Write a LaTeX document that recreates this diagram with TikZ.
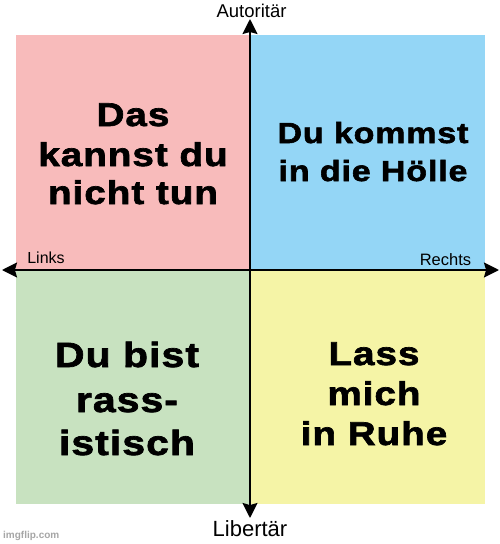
\documentclass[tikz,border=0pt]{standalone}
\usepackage{fontspec}
\setmainfont{Liberation Sans}
\newfontfamily\quadfont[LetterSpace=3,FakeStretch=1.17,FakeBold=2]{Liberation Sans Bold}
\newfontfamily\wmfont{Liberation Sans Bold}
\usetikzlibrary{arrows.meta}
\definecolor{qred}{RGB}{248,187,187}
\definecolor{qblue}{RGB}{148,214,246}
\definecolor{qgreen}{RGB}{200,226,192}
\definecolor{qyellow}{RGB}{245,244,166}
\begin{document}
\begin{tikzpicture}[x=1pt,y=-1pt,
  axislabel/.style={inner sep=0pt,anchor=base,text=black},
  quadline/.style={inner sep=0pt,anchor=base,text=black},
  axis/.style={line width=2pt,{Stealth[length=15pt,width=15pt,inset=2pt]}-{Stealth[length=15pt,width=15pt,inset=2pt]}}]
\useasboundingbox (0,0) rectangle (500,544);
\fill[white] (0,0) rectangle (500,544);
% quadrants
\fill[qred] (16,35) rectangle (250,270);
\fill[qblue] (250,35) rectangle (485,270);
\fill[qgreen] (16,270) rectangle (250,504);
\fill[qyellow] (250,270) rectangle (485,504);
% axes
\coordinate (top) at (250,19);
\coordinate (bot) at (250,518);
\coordinate (lft) at (2,270);
\coordinate (rgt) at (499,270);
\draw[axis] (top) -- (bot);
\draw[axis] (lft) -- (rgt);
% axis labels
\node[axislabel,font=\fontsize{18.5}{20}\selectfont] (aut) at (251.5,17) {Autoritär};
\node[axislabel,font=\fontsize{22}{24}\selectfont] (lib) at (250,536) {Libertär};
\node[axislabel,font=\fontsize{16}{18}\selectfont] (links) at (46,263) {Links};
\node[axislabel,font=\fontsize{16.5}{18}\selectfont] (rechts) at (445.5,265) {Rechts};
% quadrant texts
\node[quadline,font=\quadfont\fontsize{33}{36}\selectfont] (q1a) at (133,126) {Das};
\node[quadline,font=\quadfont\fontsize{33}{36}\selectfont] (q1b) at (133,166) {kannst du};
\node[quadline,font=\quadfont\fontsize{33}{36}\selectfont] (q1c) at (133,204) {nicht tun};
\node[quadline,font=\quadfont\fontsize{29}{32}\selectfont] (q2a) at (373,143) {Du kommst};
\node[quadline,font=\quadfont\fontsize{29}{32}\selectfont] (q2b) at (373,181) {in die Hölle};
\node[quadline,font=\quadfont\fontsize{35}{38}\selectfont] (q3a) at (127,367) {Du bist};
\node[quadline,font=\quadfont\fontsize{35}{38}\selectfont] (q3b) at (127,412) {rass-};
\node[quadline,font=\quadfont\fontsize{35}{38}\selectfont] (q3c) at (127,455) {istisch};
\node[quadline,font=\quadfont\fontsize{33}{36}\selectfont] (q4a) at (374,365) {Lass};
\node[quadline,font=\quadfont\fontsize{33}{36}\selectfont] (q4b) at (374,405) {mich};
\node[quadline,font=\quadfont\fontsize{33}{36}\selectfont] (q4c) at (374,445) {in Ruhe};
% watermark
\node[inner sep=0pt,anchor=base west,text=black!35,font=\wmfont\fontsize{10}{12}\selectfont] (wm) at (3,538) {imgflip.com};
\end{tikzpicture}
\end{document}
